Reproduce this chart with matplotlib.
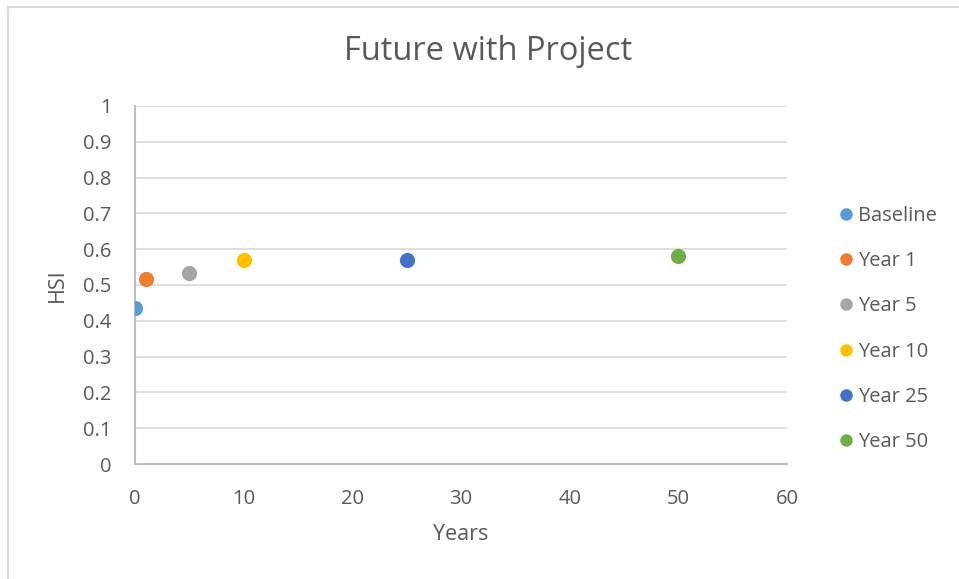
import matplotlib
matplotlib.use("Agg")
import matplotlib.pyplot as plt
from matplotlib.lines import Line2D

# --- data ---
labels = ["Baseline", "Year 1", "Year 5", "Year 10", "Year 25", "Year 50"]
years = [0, 1, 5, 10, 25, 50]
hsi = [0.436, 0.517, 0.534, 0.570, 0.570, 0.581]
colors = ["#5b9bd5", "#ed7d31", "#a5a5a5", "#ffc000", "#4472c4", "#70ad47"]

plt.rcParams["font.family"] = ["Open Sans", "DejaVu Sans"]
TXT = "#595959"

fig = plt.figure(figsize=(9.59, 5.79), dpi=100)
ax = fig.add_axes([135 / 959, 1 - 464 / 579, 652 / 959, 358 / 579])

for x, y, c, lab in zip(years, hsi, colors, labels):
    ax.scatter(x, y, s=120, color=c, label=lab, zorder=3, linewidths=0)

ax.set_xlim(0, 60)
ax.set_ylim(0, 1)
ax.set_xticks(range(0, 61, 10))
ax.set_yticks([i / 10 for i in range(11)])
ax.set_yticklabels(["0", "0.1", "0.2", "0.3", "0.4", "0.5", "0.6", "0.7", "0.8", "0.9", "1"])
ax.tick_params(length=0, labelsize=14.5, colors=TXT)
ax.tick_params(axis="y", pad=17)
ax.tick_params(axis="x", pad=18)
ax.grid(axis="y", color="#d9d9d9", lw=1.2)
ax.set_axisbelow(True)
for s in ("top", "right"):
    ax.spines[s].set_visible(False)
for s in ("left", "bottom"):
    ax.spines[s].set_color("#bfbfbf")
    ax.spines[s].set_linewidth(1.5)

ax.set_xlabel("Years", fontsize=15.5, color=TXT, labelpad=11)
ax.set_ylabel("HSI", fontsize=15.5, color=TXT, labelpad=11)
fig.text(488 / 959, 1 - 52 / 579, "Future with Project", ha="center", va="center",
         fontsize=23.5, color=TXT)

handles = [Line2D([], [], ls="none", marker="o", ms=9, color=c, mew=0) for c in colors]
leg = fig.legend(handles, labels, loc="center left", bbox_to_anchor=(816 / 959, 1 - 329 / 579),
                 frameon=False, fontsize=14.5, handletextpad=0.0, labelspacing=1.25,
                 handlelength=1.2)
for t in leg.get_texts():
    t.set_color(TXT)

# chart-area border (left and top visible in the reference)
fig.add_artist(Line2D([8 / 959, 8 / 959], [0, 1 - 7 / 579], color="#d9d9d9", lw=1.5,
                      transform=fig.transFigure))
fig.add_artist(Line2D([8 / 959, 1], [1 - 7 / 579, 1 - 7 / 579], color="#d9d9d9", lw=1.5,
                      transform=fig.transFigure))

fig.savefig("out.png", dpi=100)
